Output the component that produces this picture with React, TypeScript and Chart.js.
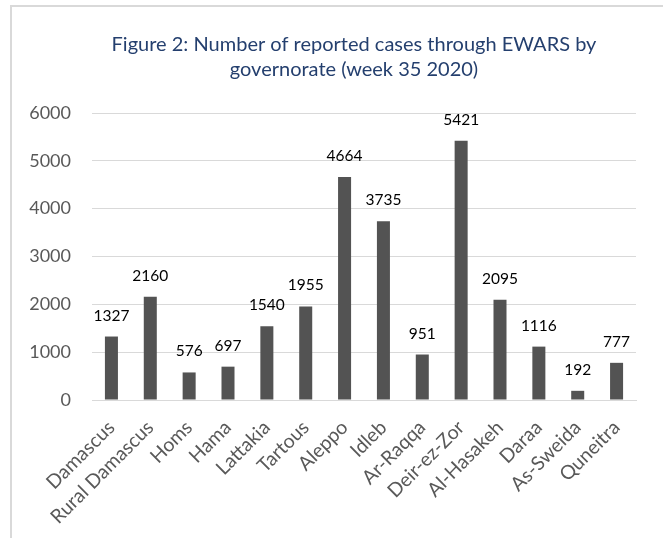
import React, { useEffect, useRef } from "react";
import { Chart, registerables } from "chart.js";

Chart.register(...registerables);

const categories = [
  "Damascus",
  "Rural Damascus",
  "Homs",
  "Hama",
  "Lattakia",
  "Tartous",
  "Aleppo",
  "Idleb",
  "Ar-Raqqa",
  "Deir-ez-Zor",
  "Al-Hasakeh",
  "Daraa",
  "As-Sweida",
  "Quneitra",
];
const cases = [1327, 2160, 576, 697, 1540, 1955, 4664, 3735, 951, 5421, 2095, 1116, 192, 777];
const titleLines = ["Figure 2: Number of reported cases through EWARS by", "governorate (week 35 2020)"];
const yMin = 0;
const yMax = 6000;
const yStep = 1000;

const FONT = "Lato, 'Open Sans', sans-serif";

const valueLabels = {
  id: "valueLabels",
  afterDatasetsDraw(chart: any) {
    const ctx = chart.ctx;
    const meta = chart.getDatasetMeta(0);
    const data = chart.data.datasets[0].data;
    ctx.save();
    ctx.fillStyle = "#000000";
    ctx.font = `15.5px ${FONT}`;
    ctx.textAlign = "center";
    ctx.textBaseline = "middle";
    meta.data.forEach((el: any, i: number) => {
      ctx.fillText(String(data[i]), el.x, el.y - 21);
    });
    ctx.restore();
  },
};

export default function App() {
  const ref = useRef<HTMLCanvasElement | null>(null);

  useEffect(() => {
    if (!ref.current) return;
    const chart = new Chart(ref.current, {
      type: "bar",
      data: {
        labels: categories,
        datasets: [
          {
            data: cases,
            backgroundColor: "#535353",
            borderWidth: 0,
            categoryPercentage: 1,
            barPercentage: 0.335,
            yAxisID: "y",
          },
        ],
      },
      options: {
        animation: false,
        responsive: false,
        devicePixelRatio: 1,
        layout: { padding: { left: 0, right: 0, top: 0, bottom: 0 } },
        plugins: {
          legend: { display: false },
          tooltip: { enabled: false },
          title: {
            display: true,
            text: titleLines,
            color: "#243f6e",
            font: { family: FONT, size: 20, weight: "normal", lineHeight: "25px" },
            padding: { top: 26, bottom: 31 },
          },
        },
        scales: {
          x: {
            grid: { display: false, drawTicks: false },
            border: { display: true, color: "#d9d9d9", width: 1 },
            ticks: {
              color: "#595959",
              font: { family: FONT, size: 19.5 },
              minRotation: 45,
              maxRotation: 45,
              autoSkip: false,
              padding: 16,
            },
            afterFit(scale: any) {
              scale.height = 146;
            },
          },
          y: {
            min: yMin,
            max: yMax,
            grid: { color: "#d9d9d9", lineWidth: 1, drawTicks: false },
            border: { display: false },
            ticks: {
              stepSize: yStep,
              color: "#595959",
              font: { family: FONT, size: 18 },
              padding: 21,
              callback: (v: any) => String(v),
            },
            afterFit(scale: any) {
              scale.width = 81;
            },
          },
          spacer: {
            type: "linear",
            position: "right",
            display: true,
            grid: { display: false, drawTicks: false },
            border: { display: false },
            ticks: { display: false },
            afterFit(scale: any) {
              scale.width = 61;
            },
          },
        },
      },
      plugins: [valueLabels],
    });
    return () => chart.destroy();
  }, []);

  return (
    <div
      style={{
        position: "fixed",
        left: 0,
        top: 0,
        width: 663,
        height: 538,
        overflow: "hidden",
        background: "#ffffff",
      }}
    >
      <div
        style={{
          position: "absolute",
          left: 10,
          top: 5,
          width: 700,
          height: 600,
          border: "2px solid #d9d9d9",
        }}
      />
      <canvas
        ref={ref}
        width={686}
        height={540}
        style={{ position: "absolute", left: 11, top: 6, width: 686, height: 540 }}
      />
    </div>
  );
}
